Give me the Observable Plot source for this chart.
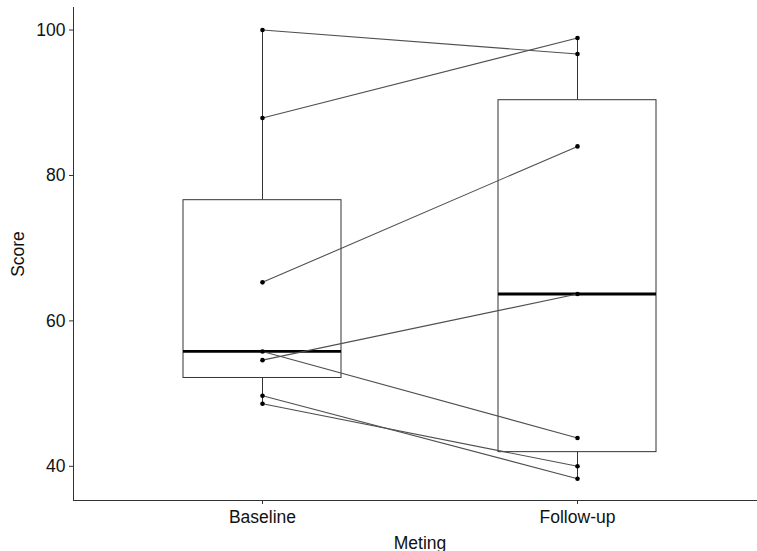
<!DOCTYPE html>
<html><head><meta charset="utf-8">
<script src="https://cdn.jsdelivr.net/npm/d3@7"></script>
<script src="https://cdn.jsdelivr.net/npm/@observablehq/plot@0.6"></script>
<style>body{margin:0;background:#fff;} #chart{width:757px;height:551px;}</style>
</head><body><div id="chart"></div>
<script>
const meting = ["Baseline", "Follow-up"];
const subjects = ["P1", "P2", "P3", "P4", "P5", "P6", "P7"];
const baseline = [100, 87.9, 65.3, 55.8, 54.6, 49.7, 48.6];
const followUp = [96.7, 98.9, 84.0, 43.9, 63.7, 38.3, 40.0];
const yTicks = [40, 60, 80, 100];
const yDomain = [35.3, 103.1];

const long = [];
subjects.forEach((s, i) => {
  long.push({subject: s, meting: meting[0], score: baseline[i]});
  long.push({subject: s, meting: meting[1], score: followUp[i]});
});

function boxStats(name, vals) {
  const v = vals.slice().sort(d3.ascending);
  const q1 = d3.quantile(v, 0.25), med = d3.quantile(v, 0.5), q3 = d3.quantile(v, 0.75);
  const iqr = q3 - q1;
  const lo = d3.min(v.filter(d => d >= q1 - 1.5 * iqr));
  const hi = d3.max(v.filter(d => d <= q3 + 1.5 * iqr));
  return {meting: name, q1, med, q3, lo, hi};
}
const stats = [boxStats(meting[0], baseline), boxStats(meting[1], followUp)];

const chart = Plot.plot({
  width: 757,
  height: 551,
  marginLeft: 73,
  marginRight: -9,
  marginTop: 7,
  marginBottom: 51,
  style: {fontFamily: "'Liberation Sans', Arial, sans-serif", fontSize: "17.5px", color: "#111", background: "#fff", overflow: "hidden"},
  x: {type: "band", domain: meting, paddingInner: 0.5, paddingOuter: 0.35},
  y: {domain: yDomain},
  marks: [
    Plot.ruleX(stats, {x: "meting", y1: "lo", y2: "q1", stroke: "#333", strokeWidth: 1}),
    Plot.ruleX(stats, {x: "meting", y1: "q3", y2: "hi", stroke: "#333", strokeWidth: 1}),
    Plot.barY(stats, {x: "meting", y1: "q1", y2: "q3", fill: "white", stroke: "#333", strokeWidth: 1}),
    Plot.tickY(stats, {x: "meting", y: "med", stroke: "black", strokeWidth: 2.8}),
    Plot.line(long, {x: "meting", y: "score", z: "subject", stroke: "#505050", strokeWidth: 1.1}),
    Plot.dot(long, {x: "meting", y: "score", r: 2.3, fill: "black", stroke: "none"}),
    Plot.frame({anchor: "left", stroke: "#333"}),
    Plot.ruleY([yDomain[0]], {stroke: "#333"}),
    Plot.axisY({ticks: yTicks, tickSize: 4, tickPadding: 4, stroke: "#333", label: "Score", labelAnchor: "center", labelOffset: 62, labelArrow: "none"}),
    Plot.axisX({tickSize: 4, tickPadding: 6, stroke: "#333", label: "Meting", labelAnchor: "center", labelOffset: 48, labelArrow: "none"})
  ]
});
document.getElementById("chart").appendChild(chart);
</script>
</body></html>
